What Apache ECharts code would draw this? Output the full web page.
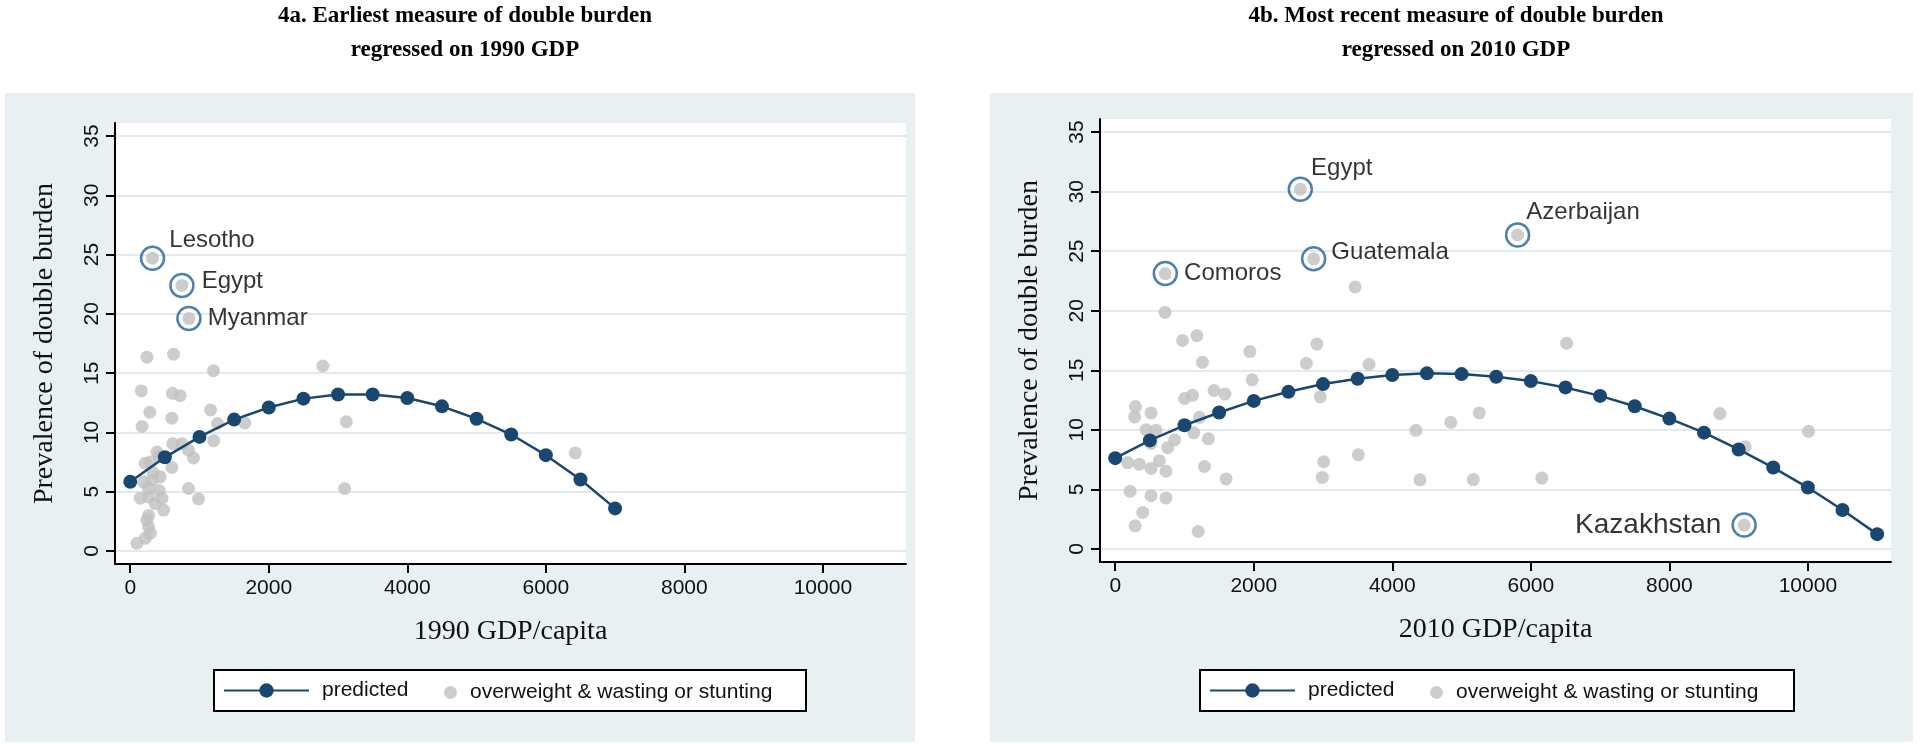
<!DOCTYPE html>
<html><head><meta charset="utf-8">
<script src="https://cdn.jsdelivr.net/npm/echarts@6/dist/echarts.min.js"></script>
<style>html,body{margin:0;padding:0;background:#fff}#c{width:1920px;height:745px}</style>
</head><body><div id="c"></div>
<script>
// ---------- data ----------
const titleA = '4a. Earliest measure of double burden\nregressed on 1990 GDP';
const titleB = '4b. Most recent measure of double burden\nregressed on 2010 GDP';
const xNameA = '1990 GDP/capita';
const xNameB = '2010 GDP/capita';
const yName = 'Prevalence of double burden';
const seriesNames = ['predicted', 'overweight & wasting or stunting'];
const xTicks = [0, 2000, 4000, 6000, 8000, 10000];
const yTicks = [0, 5, 10, 15, 20, 25, 30, 35];

const predGdpA = [0, 500, 1000, 1500, 2000, 2500, 3000, 3500, 4000, 4500, 5000, 5500, 6000, 6500, 7000];
const predValA = [5.83, 7.9, 9.62, 11.08, 12.1, 12.85, 13.2, 13.2, 12.9, 12.2, 11.15, 9.82, 8.08, 6.03, 3.59];

const predGdpB = [0, 500, 1000, 1500, 2000, 2500, 3000, 3500, 4000, 4500, 5000, 5500, 6000, 6500, 7000, 7500, 8000, 8500, 9000, 9500, 10000, 10500, 11000];
const predValB = [7.62, 9.11, 10.38, 11.45, 12.43, 13.19, 13.84, 14.29, 14.6, 14.74, 14.68, 14.46, 14.09, 13.56, 12.85, 11.98, 10.94, 9.76, 8.35, 6.83, 5.15, 3.27, 1.24];

const pointsA = [
  [241, 16.35], [625, 16.6], [1202, 15.2], [2780, 15.6], [160, 13.5], [610, 13.3], [721, 13.1],
  [282, 11.7], [1160, 11.9], [601, 11.2], [170, 10.5], [1260, 10.75], [1655, 10.8], [3120, 10.9],
  [1205, 9.3], [615, 9.05], [746, 9.05], [841, 8.5], [385, 8.35], [913, 7.85], [289, 7.5],
  [216, 7.4], [601, 7.05], [433, 6.25], [313, 5.97], [192, 5.83], [841, 5.27], [3096, 5.27],
  [986, 4.4], [144, 4.45], [264, 4.55], [457, 4.45], [361, 4.0], [481, 3.45], [264, 3.0],
  [241, 2.6], [264, 2.05], [289, 1.5], [216, 1.07], [97, 0.65], [6425, 8.27], [420, 8.0],
  [330, 6.6], [260, 5.3], [420, 5.1]
];
const namedA = [['Lesotho', 322, 24.7], ['Egypt', 746, 22.4], ['Myanmar', 847, 19.6]];

const pointsB = [
  [181, 7.25], [292, 11.95], [280, 11.08], [215, 4.84], [287, 1.94], [349, 7.1], [397, 3.06],
  [445, 10.0], [517, 11.42], [517, 8.86], [517, 6.75], [517, 4.47], [589, 9.96], [636, 7.4],
  [733, 6.52], [733, 4.28], [718, 19.86], [756, 8.5], [857, 9.15], [972, 17.5], [1000, 12.63],
  [1115, 12.9], [1134, 9.75], [1178, 17.9], [1216, 11.05], [1197, 1.46], [1259, 15.67],
  [1288, 6.92], [1345, 9.25], [1427, 13.3], [1583, 13.0], [1600, 5.88], [1944, 16.57],
  [1977, 14.2], [2759, 15.58], [2911, 17.2], [2960, 12.77], [2990, 6.0], [3010, 7.32],
  [3463, 22.0], [3510, 7.9], [3664, 15.5], [4340, 9.96], [4400, 5.8], [4845, 10.63],
  [5170, 5.82], [5255, 11.42], [6160, 5.95], [6517, 17.27], [8730, 11.36], [9095, 8.58],
  [10010, 9.87]
];
const namedB = [['Egypt', 2672, 30.2], ['Guatemala', 2864, 24.36], ['Comoros', 723, 23.12],
  ['Azerbaijan', 5809, 26.36], ['Kazakhstan', 9080, 2.0]];

// ---------- styling ----------
const NAVY = '#1a476f', GRAY = '#c0c0c0', RING = '#20609c', PANEL = '#e8f0f2', GRID = '#e1ebef';
const SANS = 'Liberation Sans, Arial, sans-serif';
const SERIF = 'Liberation Serif, Times New Roman, serif';
const labelPlace = {
  Lesotho_A: {position: 'right', offset: [-1, -18]},
  Egypt_A: {position: 'right', offset: [2, -4]},
  Myanmar_A: {position: 'right', offset: [1, 0]},
  Egypt_B: {position: 'right', offset: [-7, -21]},
  Guatemala_B: {position: 'right', offset: [0, -6]},
  Comoros_B: {position: 'right', offset: [1, 0]},
  Azerbaijan_B: {position: 'right', offset: [-9, -23]},
  Kazakhstan_B: {position: 'left', offset: [-5, 0], fontSize: 28}
};
const grids = [
  {left: 115, top: 123, width: 791, height: 441, show: true, backgroundColor: '#fff', borderWidth: 0},
  {left: 1100, top: 119, width: 791, height: 443, show: true, backgroundColor: '#fff', borderWidth: 0}
];

function xAxis(i, name) {
  return {
    type: 'value', gridIndex: i, min: -220, max: 11200,
    name: name, nameLocation: 'middle', nameGap: 54,
    nameTextStyle: {fontFamily: SERIF, fontSize: 28, color: '#111'},
    axisLine: {show: true, onZero: false, lineStyle: {color: '#000', width: 2}},
    axisTick: {show: true, length: 9, lineStyle: {color: '#000', width: 2}, customValues: xTicks},
    axisLabel: {fontFamily: SANS, fontSize: 21, color: '#111', margin: 14, customValues: xTicks,
      formatter: v => String(v)},
    splitLine: {show: false}
  };
}
function yAxis(i) {
  return {
    type: 'value', gridIndex: i, min: -1.1, max: 36.1,
    name: yName, nameLocation: 'middle', nameGap: 56,
    nameTextStyle: {fontFamily: SERIF, fontSize: 28, color: '#111'},
    axisLine: {show: true, onZero: false, lineStyle: {color: '#000', width: 2}},
    axisTick: {show: true, length: 9, lineStyle: {color: '#000', width: 2}, customValues: yTicks},
    axisLabel: {fontFamily: SANS, fontSize: 21, color: '#111', margin: 12, rotate: 90, customValues: yTicks,
      formatter: v => String(v)},
    splitLine: {show: true, lineStyle: {color: GRID, width: 2}}
  };
}
function named(list, tag) {
  return list.map(d => {
    const p = labelPlace[d[0] + tag];
    const lab = {position: p.position, offset: p.offset};
    if (p.fontSize) lab.fontSize = p.fontSize;
    return {name: d[0], value: [d[1], d[2]], label: lab};
  });
}
function panelSeries(i, gdp, val, pts, nm, tag) {
  return [
    {name: seriesNames[1], type: 'scatter', xAxisIndex: i, yAxisIndex: i, symbol: 'circle', symbolSize: 13,
      itemStyle: {color: GRAY}, data: pts.concat(nm.map(d => [d[1], d[2]])), z: 2},
    {name: 'labelled', type: 'scatter', xAxisIndex: i, yAxisIndex: i, symbol: 'circle', symbolSize: 23,
      itemStyle: {color: 'rgba(0,0,0,0)', borderColor: RING, borderWidth: 2.5},
      label: {show: true, formatter: '{b}', fontFamily: SANS, fontSize: 24, color: '#000', distance: 5},
      data: named(nm, tag), z: 3},
    {name: seriesNames[0], type: 'line', xAxisIndex: i, yAxisIndex: i, symbol: 'circle', symbolSize: 14,
      showAllSymbol: true, itemStyle: {color: NAVY}, lineStyle: {color: NAVY, width: 2.5},
      data: gdp.map((g, k) => [g, val[k]]), z: 4}
  ];
}
function legends(boxLeft) {
  return [
    {data: [seriesNames[0]], left: boxLeft + 9, top: 680, itemWidth: 85, itemHeight: 18, padding: 0,
      textStyle: {fontFamily: SANS, fontSize: 21, color: '#111', padding: [0, 0, 0, 8]}, selectedMode: false},
    {data: [{name: seriesNames[1], icon: 'circle'}], left: boxLeft + 230, top: 682, itemWidth: 13, itemHeight: 13, padding: 0,
      textStyle: {fontFamily: SANS, fontSize: 21, color: '#111', padding: [0, 0, 0, 8]}, selectedMode: false}
  ];
}

const chart = echarts.init(document.getElementById('c'), null, {renderer: 'canvas'});
chart.setOption({
  animation: false,
  backgroundColor: '#fff',
  title: [
    {text: titleA, left: 460, top: -6, textAlign: 'center',
      textStyle: {fontFamily: SERIF, fontWeight: 'bold', fontSize: 23, lineHeight: 34, color: '#000'}},
    {text: titleB, left: 1451, top: -6, textAlign: 'center',
      textStyle: {fontFamily: SERIF, fontWeight: 'bold', fontSize: 23, lineHeight: 34, color: '#000'}}
  ],
  graphic: [
    {type: 'rect', z: -10, shape: {x: 5, y: 93, width: 910, height: 649}, style: {fill: PANEL}},
    {type: 'rect', z: -10, shape: {x: 990, y: 93, width: 923, height: 649}, style: {fill: PANEL}},
    {type: 'rect', z: 1, shape: {x: 214, y: 670, width: 592, height: 41}, style: {fill: '#fff', stroke: '#000', lineWidth: 2}},
    {type: 'rect', z: 1, shape: {x: 1200, y: 670, width: 594, height: 41}, style: {fill: '#fff', stroke: '#000', lineWidth: 2}}
  ],
  grid: grids,
  xAxis: [xAxis(0, xNameA), xAxis(1, xNameB)],
  yAxis: [yAxis(0), yAxis(1)],
  legend: legends(214).concat(legends(1200)),
  series: panelSeries(0, predGdpA, predValA, pointsA, namedA, '_A')
    .concat(panelSeries(1, predGdpB, predValB, pointsB, namedB, '_B'))
});
</script></body></html>
